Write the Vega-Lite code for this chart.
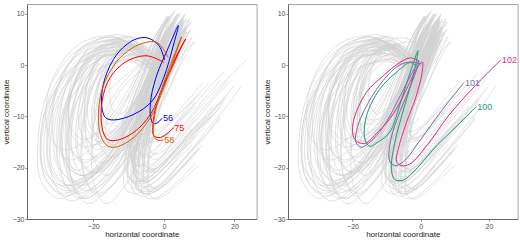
{
"$schema":"https://vega.github.io/schema/vega-lite/v6.json",
"padding":{"left":1,"top":3,"right":0,"bottom":0},
"autosize":{"type":"pad"},
"spacing":4,
"resolve":{"scale":{"x":"independent","y":"independent"}},
"config":{
 "font":"Liberation Sans",
 "view":{"stroke":"#a6a6a6","strokeWidth":1},
 "axis":{"grid":false,"domainColor":"#666666","domainWidth":1,"tickColor":"#666666","tickSize":2,"tickWidth":0.8,"labelColor":"#4d4d4d","labelFontSize":7,"labelPadding":1,"titleColor":"#1a1a1a","titleFontSize":8,"titleFontWeight":"normal"},
 "axisY":{"minExtent":15,"maxExtent":15,"titlePadding":2},
 "axisX":{"titlePadding":1.5}
},
"datasets":{
"ends":[
{"id":"56","x":-0.5,"y":-10.3},{"id":"75","x":2.7,"y":-12.2},{"id":"58","x":-0.2,"y":-14.6},
{"id":"100","x":16.3,"y":-8.1},{"id":"101","x":12.7,"y":-3.4},{"id":"102","x":23.5,"y":1.0}
],
"traj":[
{"id":"g0","x":-3,"y":2.5},{"id":"g0","x":-6.5,"y":4.1},{"id":"g0","x":-10.7,"y":3.3},{"id":"g0","x":-13.9,"y":0.1},{"id":"g0","x":-15.3,"y":-3.9},{"id":"g0","x":-14.9,"y":-7.9},{"id":"g0","x":-12.8,"y":-9.5},{"id":"g0","x":-9.3,"y":-7.9},{"id":"g0","x":-5.8,"y":-4.3},{"id":"g0","x":-3,"y":0.1},{"id":"g0","x":-0.6,"y":4.5},{"id":"g0","x":1.2,"y":6.5},{"id":"g0","x":0.2,"y":4.9},{"id":"g0","x":-2,"y":0.9},{"id":"g0","x":-4.1,"y":-3.1},{"id":"g0","x":-5.1,"y":-6.3},{"id":"g0","x":-5,"y":-8.7},{"id":"g0","x":-3.7,"y":-9.1},
{"id":"g1","x":-3,"y":2},{"id":"g1","x":-7.5,"y":3.8},{"id":"g1","x":-12.9,"y":2.9},{"id":"g1","x":-17,"y":-0.7},{"id":"g1","x":-18.8,"y":-5.2},{"id":"g1","x":-18.3,"y":-9.7},{"id":"g1","x":-15.6,"y":-11.5},{"id":"g1","x":-11.1,"y":-9.7},{"id":"g1","x":-6.6,"y":-5.7},{"id":"g1","x":-3,"y":-0.7},{"id":"g1","x":0.2,"y":4.3},{"id":"g1","x":2.4,"y":6.5},{"id":"g1","x":1.1,"y":4.7},{"id":"g1","x":-1.7,"y":0.2},{"id":"g1","x":-4.4,"y":-4.3},{"id":"g1","x":-5.7,"y":-7.9},{"id":"g1","x":-5.5,"y":-10.6},{"id":"g1","x":-3.9,"y":-11.1},{"id":"g1","x":-1.9,"y":-10.4},
{"id":"g2","x":-2,"y":1.5},{"id":"g2","x":-7,"y":3.5},{"id":"g2","x":-13,"y":2.5},{"id":"g2","x":-17.5,"y":-1.5},{"id":"g2","x":-19.5,"y":-6.5},{"id":"g2","x":-19,"y":-11.5},{"id":"g2","x":-16,"y":-13.5},{"id":"g2","x":-11,"y":-11.5},{"id":"g2","x":-6,"y":-7},{"id":"g2","x":-2,"y":-1.5},{"id":"g2","x":1.5,"y":4},{"id":"g2","x":4,"y":6.5},{"id":"g2","x":2.5,"y":4.5},{"id":"g2","x":-0.5,"y":-0.5},{"id":"g2","x":-3.5,"y":-5.5},{"id":"g2","x":-5,"y":-9.5},{"id":"g2","x":-4.8,"y":-12.5},{"id":"g2","x":-3,"y":-13},{"id":"g2","x":0,"y":-12},{"id":"g2","x":6,"y":-7.5},{"id":"g2","x":11,"y":-3.5},
{"id":"g3","x":-4,"y":2.5},{"id":"g3","x":-9,"y":4.7},{"id":"g3","x":-15,"y":3.6},{"id":"g3","x":-19.5,"y":-0.8},{"id":"g3","x":-21.5,"y":-6.3},{"id":"g3","x":-21,"y":-11.8},{"id":"g3","x":-18,"y":-14},{"id":"g3","x":-13,"y":-11.8},{"id":"g3","x":-8,"y":-6.9},{"id":"g3","x":-4,"y":-0.8},{"id":"g3","x":-0.5,"y":5.3},{"id":"g3","x":2,"y":8},{"id":"g3","x":0.5,"y":5.8},{"id":"g3","x":-2.5,"y":0.3},{"id":"g3","x":-5.5,"y":-5.2},{"id":"g3","x":-7,"y":-9.6},{"id":"g3","x":-6.8,"y":-12.9},{"id":"g3","x":-5,"y":-13.5},{"id":"g3","x":-3,"y":-12.6},
{"id":"g4","x":-1,"y":0},{"id":"g4","x":-6.5,"y":2},{"id":"g4","x":-13.1,"y":1},{"id":"g4","x":-18.1,"y":-3},{"id":"g4","x":-20.3,"y":-8},{"id":"g4","x":-19.7,"y":-13},{"id":"g4","x":-16.4,"y":-15},{"id":"g4","x":-10.9,"y":-13},{"id":"g4","x":-5.4,"y":-8.5},{"id":"g4","x":-1,"y":-3},{"id":"g4","x":2.9,"y":2.5},{"id":"g4","x":5.6,"y":5},{"id":"g4","x":4,"y":3},{"id":"g4","x":0.7,"y":-2},{"id":"g4","x":-2.7,"y":-7},{"id":"g4","x":-4.3,"y":-11},{"id":"g4","x":-4.1,"y":-14},{"id":"g4","x":-2.1,"y":-14.5},{"id":"g4","x":1,"y":-13},{"id":"g4","x":8,"y":-8},{"id":"g4","x":14,"y":-3.5},{"id":"g4","x":17,"y":-1.5},
{"id":"g5","x":-3,"y":3},{"id":"g5","x":-8.5,"y":5.4},{"id":"g5","x":-15.1,"y":4.2},{"id":"g5","x":-20.1,"y":-0.6},{"id":"g5","x":-22.3,"y":-6.6},{"id":"g5","x":-21.7,"y":-12.6},{"id":"g5","x":-18.4,"y":-15},{"id":"g5","x":-12.9,"y":-12.6},{"id":"g5","x":-7.4,"y":-7.2},{"id":"g5","x":-3,"y":-0.6},{"id":"g5","x":0.9,"y":6},{"id":"g5","x":3.6,"y":9},{"id":"g5","x":2,"y":6.6},{"id":"g5","x":-1.4,"y":0.6},{"id":"g5","x":-4.7,"y":-5.4},{"id":"g5","x":-6.3,"y":-10.2},{"id":"g5","x":-6.1,"y":-13.8},{"id":"g5","x":-4.1,"y":-14.4},{"id":"g5","x":-1,"y":-13},{"id":"g5","x":5,"y":-9},{"id":"g5","x":10,"y":-5.5},
{"id":"g6","x":-3,"y":1},{"id":"g6","x":-9,"y":3.2},{"id":"g6","x":-16.2,"y":2.1},{"id":"g6","x":-21.6,"y":-2.3},{"id":"g6","x":-24,"y":-7.8},{"id":"g6","x":-23.4,"y":-13.3},{"id":"g6","x":-19.8,"y":-15.5},{"id":"g6","x":-13.8,"y":-13.3},{"id":"g6","x":-7.8,"y":-8.4},{"id":"g6","x":-3,"y":-2.3},{"id":"g6","x":1.2,"y":3.8},{"id":"g6","x":4.2,"y":6.5},{"id":"g6","x":2.4,"y":4.3},{"id":"g6","x":-1.2,"y":-1.2},{"id":"g6","x":-4.8,"y":-6.7},{"id":"g6","x":-6.6,"y":-11.1},{"id":"g6","x":-6.4,"y":-14.4},{"id":"g6","x":-4.2,"y":-15},{"id":"g6","x":-2,"y":-14.2},
{"id":"g7","x":-1,"y":0.5},{"id":"g7","x":-7,"y":3.1},{"id":"g7","x":-14.2,"y":1.8},{"id":"g7","x":-19.6,"y":-3.4},{"id":"g7","x":-22,"y":-9.9},{"id":"g7","x":-21.4,"y":-16.4},{"id":"g7","x":-17.8,"y":-19},{"id":"g7","x":-11.8,"y":-16.4},{"id":"g7","x":-5.8,"y":-10.6},{"id":"g7","x":-1,"y":-3.4},{"id":"g7","x":3.2,"y":3.8},{"id":"g7","x":6.2,"y":7},{"id":"g7","x":4.4,"y":4.4},{"id":"g7","x":0.8,"y":-2.1},{"id":"g7","x":-2.8,"y":-8.6},{"id":"g7","x":-4.6,"y":-13.8},{"id":"g7","x":-4.4,"y":-17.7},{"id":"g7","x":-2.2,"y":-18.4},{"id":"g7","x":1,"y":-17},{"id":"g7","x":7,"y":-12.5},{"id":"g7","x":13,"y":-7.5},{"id":"g7","x":19,"y":-3},
{"id":"g8","x":-4,"y":2},{"id":"g8","x":-10.5,"y":4.4},{"id":"g8","x":-18.3,"y":3.2},{"id":"g8","x":-24.2,"y":-1.6},{"id":"g8","x":-26.8,"y":-7.6},{"id":"g8","x":-26.1,"y":-13.6},{"id":"g8","x":-22.2,"y":-16},{"id":"g8","x":-15.7,"y":-13.6},{"id":"g8","x":-9.2,"y":-8.2},{"id":"g8","x":-4,"y":-1.6},{"id":"g8","x":0.6,"y":5},{"id":"g8","x":3.8,"y":8},{"id":"g8","x":1.9,"y":5.6},{"id":"g8","x":-2.1,"y":-0.4},{"id":"g8","x":-6,"y":-6.4},{"id":"g8","x":-7.9,"y":-11.2},{"id":"g8","x":-7.6,"y":-14.8},{"id":"g8","x":-5.3,"y":-15.4},{"id":"g8","x":-3.3,"y":-14.6},
{"id":"g9","x":-2,"y":0},{"id":"g9","x":-8.5,"y":2.8},{"id":"g9","x":-16.3,"y":1.4},{"id":"g9","x":-22.2,"y":-4.2},{"id":"g9","x":-24.8,"y":-11.2},{"id":"g9","x":-24.1,"y":-18.2},{"id":"g9","x":-20.2,"y":-21},{"id":"g9","x":-13.7,"y":-18.2},{"id":"g9","x":-7.2,"y":-11.9},{"id":"g9","x":-2,"y":-4.2},{"id":"g9","x":2.6,"y":3.5},{"id":"g9","x":5.8,"y":7},{"id":"g9","x":3.9,"y":4.2},{"id":"g9","x":0,"y":-2.8},{"id":"g9","x":-4,"y":-9.8},{"id":"g9","x":-5.9,"y":-15.4},{"id":"g9","x":-5.6,"y":-19.6},{"id":"g9","x":-3.3,"y":-20.3},{"id":"g9","x":0,"y":-19},{"id":"g9","x":6,"y":-14.5},{"id":"g9","x":12,"y":-10},
{"id":"g10","x":-3,"y":1},{"id":"g10","x":-10,"y":3.6},{"id":"g10","x":-18.4,"y":2.3},{"id":"g10","x":-24.7,"y":-2.9},{"id":"g10","x":-27.5,"y":-9.4},{"id":"g10","x":-26.8,"y":-15.9},{"id":"g10","x":-22.6,"y":-18.5},{"id":"g10","x":-15.6,"y":-15.9},{"id":"g10","x":-8.6,"y":-10.1},{"id":"g10","x":-3,"y":-2.9},{"id":"g10","x":1.9,"y":4.3},{"id":"g10","x":5.4,"y":7.5},{"id":"g10","x":3.3,"y":4.9},{"id":"g10","x":-0.9,"y":-1.6},{"id":"g10","x":-5.1,"y":-8.1},{"id":"g10","x":-7.2,"y":-13.3},{"id":"g10","x":-6.9,"y":-17.2},{"id":"g10","x":-4.4,"y":-17.9},{"id":"g10","x":-1,"y":-16.5},{"id":"g10","x":5,"y":-12},{"id":"g10","x":11,"y":-7},{"id":"g10","x":16,"y":-3},
{"id":"g11","x":-5,"y":2},{"id":"g11","x":-12,"y":5},{"id":"g11","x":-20.4,"y":3.5},{"id":"g11","x":-26.7,"y":-2.5},{"id":"g11","x":-29.5,"y":-10},{"id":"g11","x":-28.8,"y":-17.5},{"id":"g11","x":-24.6,"y":-20.5},{"id":"g11","x":-17.6,"y":-17.5},{"id":"g11","x":-10.6,"y":-10.8},{"id":"g11","x":-5,"y":-2.5},{"id":"g11","x":-0.1,"y":5.8},{"id":"g11","x":3.4,"y":9.5},{"id":"g11","x":1.3,"y":6.5},{"id":"g11","x":-2.9,"y":-1},{"id":"g11","x":-7.1,"y":-8.5},{"id":"g11","x":-9.2,"y":-14.5},{"id":"g11","x":-8.9,"y":-19},{"id":"g11","x":-6.4,"y":-19.8},{"id":"g11","x":-4.4,"y":-19},
{"id":"g12","x":-2.5,"y":-0.5},{"id":"g12","x":-10,"y":2.3},{"id":"g12","x":-19,"y":0.9},{"id":"g12","x":-25.8,"y":-4.7},{"id":"g12","x":-28.8,"y":-11.7},{"id":"g12","x":-28,"y":-18.7},{"id":"g12","x":-23.5,"y":-21.5},{"id":"g12","x":-16,"y":-18.7},{"id":"g12","x":-8.5,"y":-12.4},{"id":"g12","x":-2.5,"y":-4.7},{"id":"g12","x":2.8,"y":3},{"id":"g12","x":6.5,"y":6.5},{"id":"g12","x":4.3,"y":3.7},{"id":"g12","x":-0.3,"y":-3.3},{"id":"g12","x":-4.8,"y":-10.3},{"id":"g12","x":-7,"y":-15.9},{"id":"g12","x":-6.7,"y":-20.1},{"id":"g12","x":-4,"y":-20.8},{"id":"g12","x":-1,"y":-19.5},{"id":"g12","x":5,"y":-15},{"id":"g12","x":10,"y":-11},
{"id":"g13","x":-4,"y":1},{"id":"g13","x":-11.5,"y":4.2},{"id":"g13","x":-20.5,"y":2.6},{"id":"g13","x":-27.3,"y":-3.8},{"id":"g13","x":-30.3,"y":-11.8},{"id":"g13","x":-29.5,"y":-19.8},{"id":"g13","x":-25,"y":-23},{"id":"g13","x":-17.5,"y":-19.8},{"id":"g13","x":-10,"y":-12.6},{"id":"g13","x":-4,"y":-3.8},{"id":"g13","x":1.3,"y":5},{"id":"g13","x":5,"y":9},{"id":"g13","x":2.8,"y":5.8},{"id":"g13","x":-1.8,"y":-2.2},{"id":"g13","x":-6.3,"y":-10.2},{"id":"g13","x":-8.5,"y":-16.6},{"id":"g13","x":-8.2,"y":-21.4},{"id":"g13","x":-5.5,"y":-22.2},{"id":"g13","x":-2.5,"y":-21},{"id":"g13","x":4,"y":-16},{"id":"g13","x":9,"y":-12},{"id":"g13","x":14,"y":-8},
{"id":"g14","x":-3,"y":0},{"id":"g14","x":-11,"y":3},{"id":"g14","x":-20.6,"y":1.5},{"id":"g14","x":-27.8,"y":-4.5},{"id":"g14","x":-31,"y":-12},{"id":"g14","x":-30.2,"y":-19.5},{"id":"g14","x":-25.4,"y":-22.5},{"id":"g14","x":-17.4,"y":-19.5},{"id":"g14","x":-9.4,"y":-12.8},{"id":"g14","x":-3,"y":-4.5},{"id":"g14","x":2.6,"y":3.8},{"id":"g14","x":6.6,"y":7.5},{"id":"g14","x":4.2,"y":4.5},{"id":"g14","x":-0.6,"y":-3},{"id":"g14","x":-5.4,"y":-10.5},{"id":"g14","x":-7.8,"y":-16.5},{"id":"g14","x":-7.5,"y":-21},{"id":"g14","x":-4.6,"y":-21.8},{"id":"g14","x":-2.6,"y":-21},
{"id":"g15","x":-5,"y":1.5},{"id":"g15","x":-13,"y":4.9},{"id":"g15","x":-22.6,"y":3.2},{"id":"g15","x":-29.8,"y":-3.6},{"id":"g15","x":-33,"y":-12.1},{"id":"g15","x":-32.2,"y":-20.6},{"id":"g15","x":-27.4,"y":-24},{"id":"g15","x":-19.4,"y":-20.6},{"id":"g15","x":-11.4,"y":-13},{"id":"g15","x":-5,"y":-3.6},{"id":"g15","x":0.6,"y":5.8},{"id":"g15","x":4.6,"y":10},{"id":"g15","x":2.2,"y":6.6},{"id":"g15","x":-2.6,"y":-1.9},{"id":"g15","x":-7.4,"y":-10.4},{"id":"g15","x":-9.8,"y":-17.2},{"id":"g15","x":-9.5,"y":-22.3},{"id":"g15","x":-6.6,"y":-23.2},{"id":"g15","x":-3,"y":-22},{"id":"g15","x":3,"y":-18},{"id":"g15","x":9,"y":-14},
{"id":"g16","x":-4,"y":-0.5},{"id":"g16","x":-12.5,"y":2.7},{"id":"g16","x":-22.7,"y":1.1},{"id":"g16","x":-30.4,"y":-5.3},{"id":"g16","x":-33.8,"y":-13.3},{"id":"g16","x":-32.9,"y":-21.3},{"id":"g16","x":-27.8,"y":-24.5},{"id":"g16","x":-19.3,"y":-21.3},{"id":"g16","x":-10.8,"y":-14.1},{"id":"g16","x":-4,"y":-5.3},{"id":"g16","x":2,"y":3.5},{"id":"g16","x":6.2,"y":7.5},{"id":"g16","x":3.7,"y":4.3},{"id":"g16","x":-1.5,"y":-3.7},{"id":"g16","x":-6.6,"y":-11.7},{"id":"g16","x":-9.1,"y":-18.1},{"id":"g16","x":-8.8,"y":-22.9},{"id":"g16","x":-5.7,"y":-23.7},{"id":"g16","x":-2,"y":-22.5},{"id":"g16","x":5,"y":-17},{"id":"g16","x":12,"y":-11.5},{"id":"g16","x":17,"y":-7},
{"id":"g17","x":-6,"y":1},{"id":"g17","x":-14.5,"y":4.6},{"id":"g17","x":-24.7,"y":2.8},{"id":"g17","x":-32.4,"y":-4.4},{"id":"g17","x":-35.5,"y":-13.4},{"id":"g17","x":-34.9,"y":-22.4},{"id":"g17","x":-29.8,"y":-26},{"id":"g17","x":-21.3,"y":-22.4},{"id":"g17","x":-12.8,"y":-14.3},{"id":"g17","x":-6,"y":-4.4},{"id":"g17","x":0,"y":5.5},{"id":"g17","x":4.2,"y":10},{"id":"g17","x":1.7,"y":6.4},{"id":"g17","x":-3.5,"y":-2.6},{"id":"g17","x":-8.6,"y":-11.6},{"id":"g17","x":-11.1,"y":-18.8},{"id":"g17","x":-10.8,"y":-24.2},{"id":"g17","x":-7.7,"y":-25.1},{"id":"g17","x":-5.7,"y":-24.3},
{"id":"g18","x":-3,"y":0},{"id":"g18","x":-12,"y":3.4},{"id":"g18","x":-22.8,"y":1.7},{"id":"g18","x":-30.9,"y":-5.1},{"id":"g18","x":-34.5,"y":-13.6},{"id":"g18","x":-33.6,"y":-22.1},{"id":"g18","x":-28.2,"y":-25.5},{"id":"g18","x":-19.2,"y":-22.1},{"id":"g18","x":-10.2,"y":-14.5},{"id":"g18","x":-3,"y":-5.1},{"id":"g18","x":3.3,"y":4.3},{"id":"g18","x":7.8,"y":8.5},{"id":"g18","x":5.1,"y":5.1},{"id":"g18","x":-0.3,"y":-3.4},{"id":"g18","x":-5.7,"y":-11.9},{"id":"g18","x":-8.4,"y":-18.7},{"id":"g18","x":-8,"y":-23.8},{"id":"g18","x":-4.8,"y":-24.7},{"id":"g18","x":-1,"y":-23.5},{"id":"g18","x":5,"y":-19},{"id":"g18","x":11,"y":-14.5},{"id":"g18","x":16,"y":-10},
{"id":"g19","x":-1,"y":1},{"id":"g19","x":-6.5,"y":4},{"id":"g19","x":-13.1,"y":2.5},{"id":"g19","x":-18.1,"y":-3.5},{"id":"g19","x":-20.3,"y":-11},{"id":"g19","x":-19.7,"y":-18.5},{"id":"g19","x":-16.4,"y":-21.5},{"id":"g19","x":-10.9,"y":-18.5},{"id":"g19","x":-5.4,"y":-11.8},{"id":"g19","x":-1,"y":-3.5},{"id":"g19","x":2.9,"y":4.8},{"id":"g19","x":5.6,"y":8.5},{"id":"g19","x":4,"y":5.5},{"id":"g19","x":0.7,"y":-2},{"id":"g19","x":-2.7,"y":-9.5},{"id":"g19","x":-4.3,"y":-15.5},{"id":"g19","x":-4.1,"y":-20},{"id":"g19","x":-2.1,"y":-20.8},{"id":"g19","x":1,"y":-19.5},{"id":"g19","x":7,"y":-15},{"id":"g19","x":13,"y":-10},
{"id":"g20","x":-0.5,"y":0.5},{"id":"g20","x":-7,"y":3.9},{"id":"g20","x":-14.8,"y":2.2},{"id":"g20","x":-20.7,"y":-4.6},{"id":"g20","x":-23.3,"y":-13.1},{"id":"g20","x":-22.6,"y":-21.6},{"id":"g20","x":-18.7,"y":-25},{"id":"g20","x":-12.2,"y":-21.6},{"id":"g20","x":-5.7,"y":-14},{"id":"g20","x":-0.5,"y":-4.6},{"id":"g20","x":4.1,"y":4.8},{"id":"g20","x":7.3,"y":9},{"id":"g20","x":5.4,"y":5.6},{"id":"g20","x":1.5,"y":-2.9},{"id":"g20","x":-2.5,"y":-11.4},{"id":"g20","x":-4.4,"y":-18.2},{"id":"g20","x":-4.1,"y":-23.3},{"id":"g20","x":-1.8,"y":-24.2},{"id":"g20","x":1,"y":-23},{"id":"g20","x":6,"y":-19.5},{"id":"g20","x":10,"y":-16.5},
{"id":"g21","x":-7,"y":3},{"id":"g21","x":-14.5,"y":5.6},{"id":"g21","x":-23.5,"y":4.3},{"id":"g21","x":-30.3,"y":-0.9},{"id":"g21","x":-33.3,"y":-7.4},{"id":"g21","x":-32.5,"y":-13.9},{"id":"g21","x":-28,"y":-16.5},{"id":"g21","x":-20.5,"y":-13.9},{"id":"g21","x":-13,"y":-8.1},{"id":"g21","x":-7,"y":-0.9},{"id":"g21","x":-1.8,"y":6.3},{"id":"g21","x":2,"y":9.5},{"id":"g21","x":-0.3,"y":6.9},{"id":"g21","x":-4.8,"y":0.4},{"id":"g21","x":-9.3,"y":-6.1},{"id":"g21","x":-11.5,"y":-11.3},{"id":"g21","x":-11.2,"y":-15.2},{"id":"g21","x":-8.5,"y":-15.9},{"id":"g21","x":-6.5,"y":-15.2},
{"id":"g22","x":-5,"y":2},{"id":"g22","x":-11,"y":5.2},{"id":"g22","x":-18.2,"y":3.6},{"id":"g22","x":-23.6,"y":-2.8},{"id":"g22","x":-26,"y":-10.8},{"id":"g22","x":-25.4,"y":-18.8},{"id":"g22","x":-21.8,"y":-22},{"id":"g22","x":-15.8,"y":-18.8},{"id":"g22","x":-9.8,"y":-11.6},{"id":"g22","x":-5,"y":-2.8},{"id":"g22","x":-0.8,"y":6},{"id":"g22","x":2.2,"y":10},{"id":"g22","x":0.4,"y":6.8},{"id":"g22","x":-3.2,"y":-1.2},{"id":"g22","x":-6.8,"y":-9.2},{"id":"g22","x":-8.6,"y":-15.6},{"id":"g22","x":-8.4,"y":-20.4},{"id":"g22","x":-6.2,"y":-21.2},{"id":"g22","x":-3,"y":-20},{"id":"g22","x":3,"y":-16},{"id":"g22","x":8,"y":-12.5},
{"id":"g23","x":-2,"y":0},{"id":"g23","x":-9,"y":3.6},{"id":"g23","x":-17.4,"y":1.8},{"id":"g23","x":-23.7,"y":-5.4},{"id":"g23","x":-26.5,"y":-14.4},{"id":"g23","x":-25.8,"y":-23.4},{"id":"g23","x":-21.6,"y":-27},{"id":"g23","x":-14.6,"y":-23.4},{"id":"g23","x":-7.6,"y":-15.3},{"id":"g23","x":-2,"y":-5.4},{"id":"g23","x":2.9,"y":4.5},{"id":"g23","x":6.4,"y":9},{"id":"g23","x":4.3,"y":5.4},{"id":"g23","x":0.1,"y":-3.6},{"id":"g23","x":-4.1,"y":-12.6},{"id":"g23","x":-6.2,"y":-19.8},{"id":"g23","x":-5.9,"y":-25.2},{"id":"g23","x":-3.4,"y":-26.1},{"id":"g23","x":0,"y":-25},{"id":"g23","x":5,"y":-22},{"id":"g23","x":9,"y":-19},
{"id":"g24","x":-1,"y":-2},{"id":"g24","x":-9,"y":0.6},{"id":"g24","x":-18.6,"y":-0.7},{"id":"g24","x":-25.8,"y":-5.9},{"id":"g24","x":-29,"y":-12.4},{"id":"g24","x":-28.2,"y":-18.9},{"id":"g24","x":-23.4,"y":-21.5},{"id":"g24","x":-15.4,"y":-18.9},{"id":"g24","x":-7.4,"y":-13.1},{"id":"g24","x":-1,"y":-5.9},{"id":"g24","x":4.6,"y":1.3},{"id":"g24","x":8.6,"y":4.5},{"id":"g24","x":6.2,"y":1.9},{"id":"g24","x":1.4,"y":-4.6},{"id":"g24","x":-3.4,"y":-11.1},{"id":"g24","x":-5.8,"y":-16.3},{"id":"g24","x":-5.5,"y":-20.2},{"id":"g24","x":-2.6,"y":-20.9},{"id":"g24","x":0,"y":-19.5},{"id":"g24","x":6,"y":-15},{"id":"g24","x":12,"y":-10.5},{"id":"g24","x":18,"y":-6},
{"id":"g25","x":-5,"y":3},{"id":"g25","x":-10,"y":5.6},{"id":"g25","x":-16,"y":4.3},{"id":"g25","x":-20.5,"y":-0.9},{"id":"g25","x":-22.5,"y":-7.4},{"id":"g25","x":-22,"y":-13.9},{"id":"g25","x":-19,"y":-16.5},{"id":"g25","x":-14,"y":-13.9},{"id":"g25","x":-9,"y":-8.1},{"id":"g25","x":-5,"y":-0.9},{"id":"g25","x":-1.5,"y":6.3},{"id":"g25","x":1,"y":9.5},{"id":"g25","x":-0.5,"y":6.9},{"id":"g25","x":-3.5,"y":0.4},{"id":"g25","x":-6.5,"y":-6.1},{"id":"g25","x":-8,"y":-11.3},{"id":"g25","x":-7.8,"y":-15.2},{"id":"g25","x":-6,"y":-15.9},{"id":"g25","x":-3,"y":-14.5},{"id":"g25","x":3,"y":-10.5},{"id":"g25","x":8,"y":-7},
{"id":"g26","x":-4,"y":2},{"id":"g26","x":-8,"y":4},{"id":"g26","x":-12.8,"y":3},{"id":"g26","x":-16.4,"y":-1},{"id":"g26","x":-18,"y":-6},{"id":"g26","x":-17.6,"y":-11},{"id":"g26","x":-15.2,"y":-13},{"id":"g26","x":-11.2,"y":-11},{"id":"g26","x":-7.2,"y":-6.5},{"id":"g26","x":-4,"y":-1},{"id":"g26","x":-1.2,"y":4.5},{"id":"g26","x":0.8,"y":7},{"id":"g26","x":-0.4,"y":5},{"id":"g26","x":-2.8,"y":0},{"id":"g26","x":-5.2,"y":-5},{"id":"g26","x":-6.4,"y":-9},{"id":"g26","x":-6.2,"y":-12},{"id":"g26","x":-4.8,"y":-12.5},
{"id":"g27","x":-3,"y":-1},{"id":"g27","x":-11.5,"y":2},{"id":"g27","x":-21.7,"y":0.5},{"id":"g27","x":-29.4,"y":-5.5},{"id":"g27","x":-32.8,"y":-13},{"id":"g27","x":-31.9,"y":-20.5},{"id":"g27","x":-26.8,"y":-23.5},{"id":"g27","x":-18.3,"y":-20.5},{"id":"g27","x":-9.8,"y":-13.8},{"id":"g27","x":-3,"y":-5.5},{"id":"g27","x":3,"y":2.8},{"id":"g27","x":7.2,"y":6.5},{"id":"g27","x":4.7,"y":3.5},{"id":"g27","x":-0.5,"y":-4},{"id":"g27","x":-5.6,"y":-11.5},{"id":"g27","x":-8.1,"y":-17.5},{"id":"g27","x":-7.8,"y":-22},{"id":"g27","x":-4.7,"y":-22.8},{"id":"g27","x":-2,"y":-21.5},{"id":"g27","x":4,"y":-17},{"id":"g27","x":10,"y":-12},{"id":"g27","x":15,"y":-8},{"id":"g27","x":20,"y":-4},
{"id":"g28","x":-6,"y":2},{"id":"g28","x":-12,"y":4.8},{"id":"g28","x":-19.2,"y":3.4},{"id":"g28","x":-24.6,"y":-2.2},{"id":"g28","x":-27,"y":-9.2},{"id":"g28","x":-26.4,"y":-16.2},{"id":"g28","x":-22.8,"y":-19},{"id":"g28","x":-16.8,"y":-16.2},{"id":"g28","x":-10.8,"y":-9.9},{"id":"g28","x":-6,"y":-2.2},{"id":"g28","x":-1.8,"y":5.5},{"id":"g28","x":1.2,"y":9},{"id":"g28","x":-0.6,"y":6.2},{"id":"g28","x":-4.2,"y":-0.8},{"id":"g28","x":-7.8,"y":-7.8},{"id":"g28","x":-9.6,"y":-13.4},{"id":"g28","x":-9.4,"y":-17.6},{"id":"g28","x":-7.2,"y":-18.3},{"id":"g28","x":-5.2,"y":-17.5},
{"id":"g29","x":-4,"y":0.5},{"id":"g29","x":-11,"y":3.7},{"id":"g29","x":-19.4,"y":2.1},{"id":"g29","x":-25.7,"y":-4.3},{"id":"g29","x":-28.5,"y":-12.3},{"id":"g29","x":-27.8,"y":-20.3},{"id":"g29","x":-23.6,"y":-23.5},{"id":"g29","x":-16.6,"y":-20.3},{"id":"g29","x":-9.6,"y":-13.1},{"id":"g29","x":-4,"y":-4.3},{"id":"g29","x":0.9,"y":4.5},{"id":"g29","x":4.4,"y":8.5},{"id":"g29","x":2.3,"y":5.3},{"id":"g29","x":-1.9,"y":-2.7},{"id":"g29","x":-6.1,"y":-10.7},{"id":"g29","x":-8.2,"y":-17.1},{"id":"g29","x":-7.9,"y":-21.9},{"id":"g29","x":-5.4,"y":-22.7},{"id":"g29","x":-2,"y":-21.5},{"id":"g29","x":4,"y":-17},{"id":"g29","x":10,"y":-12.5},{"id":"g29","x":15,"y":-9},
{"id":"g30","x":-3,"y":1},{"id":"g30","x":-10.5,"y":4.6},{"id":"g30","x":-19.5,"y":2.8},{"id":"g30","x":-26.3,"y":-4.4},{"id":"g30","x":-29.3,"y":-13.4},{"id":"g30","x":-28.5,"y":-22.4},{"id":"g30","x":-24,"y":-26},{"id":"g30","x":-16.5,"y":-22.4},{"id":"g30","x":-9,"y":-14.3},{"id":"g30","x":-3,"y":-4.4},{"id":"g30","x":2.3,"y":5.5},{"id":"g30","x":6,"y":10},{"id":"g30","x":3.8,"y":6.4},{"id":"g30","x":-0.8,"y":-2.6},{"id":"g30","x":-5.3,"y":-11.6},{"id":"g30","x":-7.5,"y":-18.8},{"id":"g30","x":-7.2,"y":-24.2},{"id":"g30","x":-4.5,"y":-25.1},{"id":"g30","x":-1,"y":-24},{"id":"g30","x":5,"y":-20},{"id":"g30","x":11,"y":-15.5},
{"id":"g31","x":-5,"y":1},{"id":"g31","x":-11.5,"y":4},{"id":"g31","x":-19.3,"y":2.5},{"id":"g31","x":-25.2,"y":-3.5},{"id":"g31","x":-27.8,"y":-11},{"id":"g31","x":-27.1,"y":-18.5},{"id":"g31","x":-23.2,"y":-21.5},{"id":"g31","x":-16.7,"y":-18.5},{"id":"g31","x":-10.2,"y":-11.8},{"id":"g31","x":-5,"y":-3.5},{"id":"g31","x":-0.5,"y":4.8},{"id":"g31","x":2.8,"y":8.5},{"id":"g31","x":0.9,"y":5.5},{"id":"g31","x":-3.1,"y":-2},{"id":"g31","x":-7,"y":-9.5},{"id":"g31","x":-8.9,"y":-15.5},{"id":"g31","x":-8.6,"y":-20},{"id":"g31","x":-6.3,"y":-20.8},{"id":"g31","x":-3,"y":-19.5},{"id":"g31","x":3,"y":-15},{"id":"g31","x":9,"y":-10.5},
{"id":"g32","x":-4,"y":0.5},{"id":"g32","x":-12,"y":4.1},{"id":"g32","x":-21.6,"y":2.3},{"id":"g32","x":-28.8,"y":-4.9},{"id":"g32","x":-32,"y":-13.9},{"id":"g32","x":-31.2,"y":-22.9},{"id":"g32","x":-26.4,"y":-26.5},{"id":"g32","x":-18.4,"y":-22.9},{"id":"g32","x":-10.4,"y":-14.8},{"id":"g32","x":-4,"y":-4.9},{"id":"g32","x":1.6,"y":5},{"id":"g32","x":5.6,"y":9.5},{"id":"g32","x":3.2,"y":5.9},{"id":"g32","x":-1.6,"y":-3.1},{"id":"g32","x":-6.4,"y":-12.1},{"id":"g32","x":-8.8,"y":-19.3},{"id":"g32","x":-8.5,"y":-24.7},{"id":"g32","x":-5.6,"y":-25.6},{"id":"g32","x":-3.5,"y":-24.8},
{"id":"g33","x":-4,"y":1.5},{"id":"g33","x":-9.5,"y":4.1},{"id":"g33","x":-16.1,"y":2.8},{"id":"g33","x":-21.1,"y":-2.4},{"id":"g33","x":-23.3,"y":-8.9},{"id":"g33","x":-22.7,"y":-15.4},{"id":"g33","x":-19.4,"y":-18},{"id":"g33","x":-13.9,"y":-15.4},{"id":"g33","x":-8.4,"y":-9.6},{"id":"g33","x":-4,"y":-2.4},{"id":"g33","x":-0.2,"y":4.8},{"id":"g33","x":2.6,"y":8},{"id":"g33","x":1,"y":5.4},{"id":"g33","x":-2.4,"y":-1.1},{"id":"g33","x":-5.7,"y":-7.6},{"id":"g33","x":-7.3,"y":-12.8},{"id":"g33","x":-7.1,"y":-16.7},{"id":"g33","x":-5.1,"y":-17.4},{"id":"g33","x":-2,"y":-16},{"id":"g33","x":4,"y":-11.5},{"id":"g33","x":9,"y":-8},
{"id":"g34","x":-5,"y":-1},{"id":"g34","x":-13.5,"y":2},{"id":"g34","x":-23.7,"y":0.5},{"id":"g34","x":-31.4,"y":-5.5},{"id":"g34","x":-34.8,"y":-13},{"id":"g34","x":-33.9,"y":-20.5},{"id":"g34","x":-28.8,"y":-23.5},{"id":"g34","x":-20.3,"y":-20.5},{"id":"g34","x":-11.8,"y":-13.8},{"id":"g34","x":-5,"y":-5.5},{"id":"g34","x":1,"y":2.8},{"id":"g34","x":5.2,"y":6.5},{"id":"g34","x":2.7,"y":3.5},{"id":"g34","x":-2.5,"y":-4},{"id":"g34","x":-7.6,"y":-11.5},{"id":"g34","x":-10.1,"y":-17.5},{"id":"g34","x":-9.8,"y":-22},{"id":"g34","x":-6.7,"y":-22.8},{"id":"g34","x":-4.7,"y":-22},
{"id":"g35","x":-2,"y":0},{"id":"g35","x":-8,"y":3.4},{"id":"g35","x":-15.2,"y":1.7},{"id":"g35","x":-20.6,"y":-5.1},{"id":"g35","x":-23,"y":-13.6},{"id":"g35","x":-22.4,"y":-22.1},{"id":"g35","x":-18.8,"y":-25.5},{"id":"g35","x":-12.8,"y":-22.1},{"id":"g35","x":-6.8,"y":-14.5},{"id":"g35","x":-2,"y":-5.1},{"id":"g35","x":2.2,"y":4.3},{"id":"g35","x":5.2,"y":8.5},{"id":"g35","x":3.4,"y":5.1},{"id":"g35","x":-0.2,"y":-3.4},{"id":"g35","x":-3.8,"y":-11.9},{"id":"g35","x":-5.6,"y":-18.7},{"id":"g35","x":-5.4,"y":-23.8},{"id":"g35","x":-3.2,"y":-24.7},{"id":"g35","x":0,"y":-23.5},{"id":"g35","x":5,"y":-20},{"id":"g35","x":10,"y":-16},
{"id":"g36","x":-7,"y":2.5},{"id":"g36","x":-14,"y":5.3},{"id":"g36","x":-22.4,"y":3.9},{"id":"g36","x":-28.7,"y":-1.7},{"id":"g36","x":-31.5,"y":-8.7},{"id":"g36","x":-30.8,"y":-15.7},{"id":"g36","x":-26.6,"y":-18.5},{"id":"g36","x":-19.6,"y":-15.7},{"id":"g36","x":-12.6,"y":-9.4},{"id":"g36","x":-7,"y":-1.7},{"id":"g36","x":-2.1,"y":6},{"id":"g36","x":1.4,"y":9.5},{"id":"g36","x":-0.7,"y":6.7},{"id":"g36","x":-4.9,"y":-0.3},{"id":"g36","x":-9.1,"y":-7.3},{"id":"g36","x":-11.2,"y":-12.9},{"id":"g36","x":-10.9,"y":-17.1},{"id":"g36","x":-8.4,"y":-17.8},{"id":"g36","x":-6.4,"y":-17},
{"id":"g37","x":-1,"y":0},{"id":"g37","x":-6,"y":2.4},{"id":"g37","x":-12,"y":1.2},{"id":"g37","x":-16.5,"y":-3.6},{"id":"g37","x":-18.5,"y":-9.6},{"id":"g37","x":-18,"y":-15.6},{"id":"g37","x":-15,"y":-18},{"id":"g37","x":-10,"y":-15.6},{"id":"g37","x":-5,"y":-10.2},{"id":"g37","x":-1,"y":-3.6},{"id":"g37","x":2.5,"y":3},{"id":"g37","x":5,"y":6},{"id":"g37","x":3.5,"y":3.6},{"id":"g37","x":0.5,"y":-2.4},{"id":"g37","x":-2.5,"y":-8.4},{"id":"g37","x":-4,"y":-13.2},{"id":"g37","x":-3.8,"y":-16.8},{"id":"g37","x":-2,"y":-17.4},{"id":"g37","x":1,"y":-16},{"id":"g37","x":7,"y":-11.5},{"id":"g37","x":13,"y":-7},{"id":"g37","x":18,"y":-3},
{"id":"g38","x":-6,"y":2},{"id":"g38","x":-13.5,"y":5.4},{"id":"g38","x":-22.5,"y":3.7},{"id":"g38","x":-29.3,"y":-3.1},{"id":"g38","x":-32.3,"y":-11.6},{"id":"g38","x":-31.5,"y":-20.1},{"id":"g38","x":-27,"y":-23.5},{"id":"g38","x":-19.5,"y":-20.1},{"id":"g38","x":-12,"y":-12.5},{"id":"g38","x":-6,"y":-3.1},{"id":"g38","x":-0.8,"y":6.3},{"id":"g38","x":3,"y":10.5},{"id":"g38","x":0.8,"y":7.1},{"id":"g38","x":-3.8,"y":-1.4},{"id":"g38","x":-8.3,"y":-9.9},{"id":"g38","x":-10.5,"y":-16.7},{"id":"g38","x":-10.2,"y":-21.8},{"id":"g38","x":-7.5,"y":-22.7},{"id":"g38","x":-4.5,"y":-21.5},{"id":"g38","x":1,"y":-18},{"id":"g38","x":6,"y":-14.5},
{"id":"g39","x":-4,"y":1},{"id":"g39","x":-10.5,"y":4.6},{"id":"g39","x":-18.3,"y":2.8},{"id":"g39","x":-24.2,"y":-4.4},{"id":"g39","x":-26.8,"y":-13.4},{"id":"g39","x":-26.1,"y":-22.4},{"id":"g39","x":-22.2,"y":-26},{"id":"g39","x":-15.7,"y":-22.4},{"id":"g39","x":-9.2,"y":-14.3},{"id":"g39","x":-4,"y":-4.4},{"id":"g39","x":0.6,"y":5.5},{"id":"g39","x":3.8,"y":10},{"id":"g39","x":1.9,"y":6.4},{"id":"g39","x":-2.1,"y":-2.6},{"id":"g39","x":-6,"y":-11.6},{"id":"g39","x":-7.9,"y":-18.8},{"id":"g39","x":-7.6,"y":-24.2},{"id":"g39","x":-5.3,"y":-25.1},{"id":"g39","x":-3,"y":-24.3},
{"id":"g40","x":-2,"y":1},{"id":"g40","x":-6.5,"y":3.2},{"id":"g40","x":-11.9,"y":2.1},{"id":"g40","x":-16,"y":-2.3},{"id":"g40","x":-17.8,"y":-7.8},{"id":"g40","x":-17.3,"y":-13.3},{"id":"g40","x":-14.6,"y":-15.5},{"id":"g40","x":-10.1,"y":-13.3},{"id":"g40","x":-5.6,"y":-8.4},{"id":"g40","x":-2,"y":-2.3},{"id":"g40","x":1.2,"y":3.8},{"id":"g40","x":3.4,"y":6.5},{"id":"g40","x":2.1,"y":4.3},{"id":"g40","x":-0.7,"y":-1.2},{"id":"g40","x":-3.4,"y":-6.7},{"id":"g40","x":-4.7,"y":-11.1},{"id":"g40","x":-4.5,"y":-14.4},{"id":"g40","x":-2.9,"y":-15},{"id":"g40","x":0,"y":-14},{"id":"g40","x":5,"y":-10.5},{"id":"g40","x":9,"y":-7.5},
{"id":"g41","x":-2,"y":-1},{"id":"g41","x":-10,"y":2.2},{"id":"g41","x":-19.6,"y":0.6},{"id":"g41","x":-26.8,"y":-5.8},{"id":"g41","x":-30,"y":-13.8},{"id":"g41","x":-29.2,"y":-21.8},{"id":"g41","x":-24.4,"y":-25},{"id":"g41","x":-16.4,"y":-21.8},{"id":"g41","x":-8.4,"y":-14.6},{"id":"g41","x":-2,"y":-5.8},{"id":"g41","x":3.6,"y":3},{"id":"g41","x":7.6,"y":7},{"id":"g41","x":5.2,"y":3.8},{"id":"g41","x":0.4,"y":-4.2},{"id":"g41","x":-4.4,"y":-12.2},{"id":"g41","x":-6.8,"y":-18.6},{"id":"g41","x":-6.5,"y":-23.4},{"id":"g41","x":-3.6,"y":-24.2},{"id":"g41","x":-0.5,"y":-23},{"id":"g41","x":6,"y":-18},{"id":"g41","x":13,"y":-12},{"id":"g41","x":19,"y":-7},{"id":"g41","x":22,"y":-4},
{"id":"g42","x":-3,"y":-0.5},{"id":"g42","x":-10,"y":2.9},{"id":"g42","x":-18.4,"y":1.2},{"id":"g42","x":-24.7,"y":-5.6},{"id":"g42","x":-27.5,"y":-14.1},{"id":"g42","x":-26.8,"y":-22.6},{"id":"g42","x":-22.6,"y":-26},{"id":"g42","x":-15.6,"y":-22.6},{"id":"g42","x":-8.6,"y":-15},{"id":"g42","x":-3,"y":-5.6},{"id":"g42","x":1.9,"y":3.8},{"id":"g42","x":5.4,"y":8},{"id":"g42","x":3.3,"y":4.6},{"id":"g42","x":-0.9,"y":-3.9},{"id":"g42","x":-5.1,"y":-12.4},{"id":"g42","x":-7.2,"y":-19.2},{"id":"g42","x":-6.9,"y":-24.3},{"id":"g42","x":-4.4,"y":-25.2},{"id":"g42","x":-1.5,"y":-24},{"id":"g42","x":4,"y":-20.5},{"id":"g42","x":9,"y":-17},
{"id":"g43","x":-6,"y":3.5},{"id":"g43","x":-12,"y":5.9},{"id":"g43","x":-19.2,"y":4.7},{"id":"g43","x":-24.6,"y":-0.1},{"id":"g43","x":-27,"y":-6.1},{"id":"g43","x":-26.4,"y":-12.1},{"id":"g43","x":-22.8,"y":-14.5},{"id":"g43","x":-16.8,"y":-12.1},{"id":"g43","x":-10.8,"y":-6.7},{"id":"g43","x":-6,"y":-0.1},{"id":"g43","x":-1.8,"y":6.5},{"id":"g43","x":1.2,"y":9.5},{"id":"g43","x":-0.6,"y":7.1},{"id":"g43","x":-4.2,"y":1.1},{"id":"g43","x":-7.8,"y":-4.9},{"id":"g43","x":-9.6,"y":-9.7},{"id":"g43","x":-9.4,"y":-13.3},{"id":"g43","x":-7.2,"y":-13.9},{"id":"g43","x":-5.2,"y":-13.2},
{"id":"g44","x":-1,"y":-2},{"id":"g44","x":-8.5,"y":1},{"id":"g44","x":-17.5,"y":-0.5},{"id":"g44","x":-24.3,"y":-6.5},{"id":"g44","x":-27.3,"y":-14},{"id":"g44","x":-26.5,"y":-21.5},{"id":"g44","x":-22,"y":-24.5},{"id":"g44","x":-14.5,"y":-21.5},{"id":"g44","x":-7,"y":-14.8},{"id":"g44","x":-1,"y":-6.5},{"id":"g44","x":4.3,"y":1.8},{"id":"g44","x":8,"y":5.5},{"id":"g44","x":5.8,"y":2.5},{"id":"g44","x":1.3,"y":-5},{"id":"g44","x":-3.3,"y":-12.5},{"id":"g44","x":-5.5,"y":-18.5},{"id":"g44","x":-5.2,"y":-23},{"id":"g44","x":-2.5,"y":-23.8},{"id":"g44","x":0,"y":-22.5},{"id":"g44","x":6,"y":-18},{"id":"g44","x":12,"y":-13.5},{"id":"g44","x":16,"y":-10.5},
{"id":"g45","x":-5,"y":0.5},{"id":"g45","x":-13.5,"y":3.9},{"id":"g45","x":-23.7,"y":2.2},{"id":"g45","x":-31.4,"y":-4.6},{"id":"g45","x":-34.8,"y":-13.1},{"id":"g45","x":-33.9,"y":-21.6},{"id":"g45","x":-28.8,"y":-25},{"id":"g45","x":-20.3,"y":-21.6},{"id":"g45","x":-11.8,"y":-14},{"id":"g45","x":-5,"y":-4.6},{"id":"g45","x":1,"y":4.8},{"id":"g45","x":5.2,"y":9},{"id":"g45","x":2.7,"y":5.6},{"id":"g45","x":-2.5,"y":-2.9},{"id":"g45","x":-7.6,"y":-11.4},{"id":"g45","x":-10.1,"y":-18.2},{"id":"g45","x":-9.8,"y":-23.3},{"id":"g45","x":-6.7,"y":-24.2},{"id":"g45","x":-3,"y":-23},{"id":"g45","x":3,"y":-19},{"id":"g45","x":8,"y":-15.5},
{"id":"g46","x":-1,"y":0},{"id":"g46","x":-6.5,"y":3.6},{"id":"g46","x":-13.1,"y":1.8},{"id":"g46","x":-18.1,"y":-5.4},{"id":"g46","x":-20.3,"y":-14.4},{"id":"g46","x":-19.7,"y":-23.4},{"id":"g46","x":-16.4,"y":-27},{"id":"g46","x":-10.9,"y":-23.4},{"id":"g46","x":-5.4,"y":-15.3},{"id":"g46","x":-1,"y":-5.4},{"id":"g46","x":2.9,"y":4.5},{"id":"g46","x":5.6,"y":9},{"id":"g46","x":4,"y":5.4},{"id":"g46","x":0.7,"y":-3.6},{"id":"g46","x":-2.7,"y":-12.6},{"id":"g46","x":-4.3,"y":-19.8},{"id":"g46","x":-4.1,"y":-25.2},{"id":"g46","x":-2.1,"y":-26.1},{"id":"g46","x":1,"y":-25},{"id":"g46","x":6,"y":-22},{"id":"g46","x":10,"y":-19.5},
{"id":"g47","x":-1.5,"y":-1.5},{"id":"g47","x":-8,"y":1.1},{"id":"g47","x":-15.8,"y":-0.2},{"id":"g47","x":-21.7,"y":-5.4},{"id":"g47","x":-24.3,"y":-11.9},{"id":"g47","x":-23.6,"y":-18.4},{"id":"g47","x":-19.7,"y":-21},{"id":"g47","x":-13.2,"y":-18.4},{"id":"g47","x":-6.7,"y":-12.6},{"id":"g47","x":-1.5,"y":-5.4},{"id":"g47","x":3.1,"y":1.8},{"id":"g47","x":6.3,"y":5},{"id":"g47","x":4.4,"y":2.4},{"id":"g47","x":0.5,"y":-4.1},{"id":"g47","x":-3.5,"y":-10.6},{"id":"g47","x":-5.4,"y":-15.8},{"id":"g47","x":-5.1,"y":-19.7},{"id":"g47","x":-2.8,"y":-20.4},{"id":"g47","x":0,"y":-19},{"id":"g47","x":6,"y":-14.5},{"id":"g47","x":12,"y":-10},{"id":"g47","x":17,"y":-6.5},
{"id":"56","x":0.2,"y":1.0},{"id":"56","x":-1.4,"y":3.8},{"id":"56","x":-4.7,"y":5.3},{"id":"56","x":-8.5,"y":4.9},{"id":"56","x":-13.3,"y":2.1},{"id":"56","x":-16.6,"y":-2.4},{"id":"56","x":-17.7,"y":-7.0},{"id":"56","x":-16.6,"y":-10.2},{"id":"56","x":-14.2,"y":-10.7},{"id":"56","x":-8.5,"y":-9.6},{"id":"56","x":-3.3,"y":-7.0},{"id":"56","x":0,"y":-2.4},{"id":"56","x":2.8,"y":4.1},{"id":"56","x":4.1,"y":7.7},{"id":"56","x":0.9,"y":2.8},{"id":"56","x":-1.9,"y":-1.75},{"id":"56","x":-3.6,"y":-6.3},{"id":"56","x":-3.8,"y":-9.9},{"id":"56","x":-3.0,"y":-11.4},{"id":"56","x":-1.7,"y":-11.2},{"id":"56","x":-0.5,"y":-10.3},
{"id":"75","x":0,"y":0.5},{"id":"75","x":-4.7,"y":1.8},{"id":"75","x":-10.4,"y":0.8},{"id":"75","x":-15.2,"y":-2.4},{"id":"75","x":-17.5,"y":-7.0},{"id":"75","x":-17.5,"y":-12.2},{"id":"75","x":-16.1,"y":-14.4},{"id":"75","x":-13.7,"y":-14.7},{"id":"75","x":-8.5,"y":-13.1},{"id":"75","x":-3.8,"y":-9.6},{"id":"75","x":0,"y":-3.7},{"id":"75","x":3.8,"y":2.1},{"id":"75","x":6.2,"y":5.1},{"id":"75","x":5.2,"y":3.8},{"id":"75","x":1.9,"y":-1.1},{"id":"75","x":-1.4,"y":-6.3},{"id":"75","x":-3.0,"y":-10.9},{"id":"75","x":-2.8,"y":-13.8},{"id":"75","x":-0.9,"y":-14.1},{"id":"75","x":1.4,"y":-13.1},{"id":"75","x":2.7,"y":-12.2},
{"id":"58","x":1.2,"y":1.5},{"id":"58","x":-1.9,"y":4.4},{"id":"58","x":-6.6,"y":4.1},{"id":"58","x":-12.3,"y":1.5},{"id":"58","x":-17.0,"y":-3.7},{"id":"58","x":-18.5,"y":-8.9},{"id":"58","x":-18.0,"y":-13.5},{"id":"58","x":-16.1,"y":-15.7},{"id":"58","x":-13.7,"y":-16.0},{"id":"58","x":-8.5,"y":-14.1},{"id":"58","x":-3.8,"y":-10.2},{"id":"58","x":0,"y":-4.4},{"id":"58","x":3.3,"y":2.1},{"id":"58","x":5.0,"y":5.5},{"id":"58","x":3.8,"y":3.4},{"id":"58","x":0.9,"y":-1.75},{"id":"58","x":-1.9,"y":-7.6},{"id":"58","x":-3.0,"y":-12.2},{"id":"58","x":-2.7,"y":-14.1},{"id":"58","x":-1.4,"y":-14.7},{"id":"58","x":-0.2,"y":-14.6},
{"id":"100","x":-1,"y":-0.5},{"id":"100","x":-3,"y":0.5},{"id":"100","x":-7.1,"y":-1.4},{"id":"100","x":-12,"y":-4.7},{"id":"100","x":-15.9,"y":-9.9},{"id":"100","x":-16.4,"y":-14.3},{"id":"100","x":-15,"y":-15.8},{"id":"100","x":-12.5,"y":-15},{"id":"100","x":-9.1,"y":-13.1},{"id":"100","x":-6.2,"y":-7.9},{"id":"100","x":-3.7,"y":-2.7},{"id":"100","x":-0.8,"y":2.8},{"id":"100","x":-2.2,"y":-2.1},{"id":"100","x":-4.7,"y":-7.9},{"id":"100","x":-7.6,"y":-15.1},{"id":"100","x":-8.6,"y":-20.3},{"id":"100","x":-7.6,"y":-22.3},{"id":"100","x":-5,"y":-22.4},{"id":"100","x":-1,"y":-20},{"id":"100","x":5,"y":-15.5},{"id":"100","x":11,"y":-11.6},{"id":"100","x":16.3,"y":-8.1},
{"id":"101","x":0.2,"y":0.2},{"id":"101","x":-2.7,"y":0.6},{"id":"101","x":-6.2,"y":0},{"id":"101","x":-11,"y":-3},{"id":"101","x":-15.5,"y":-7.5},{"id":"101","x":-18.5,"y":-12},{"id":"101","x":-19,"y":-15},{"id":"101","x":-17.5,"y":-16},{"id":"101","x":-14,"y":-14.5},{"id":"101","x":-10,"y":-11},{"id":"101","x":-6,"y":-6},{"id":"101","x":-2.5,"y":-1.5},{"id":"101","x":-0.5,"y":0.8},{"id":"101","x":-1.5,"y":-1.5},{"id":"101","x":-4.2,"y":-6},{"id":"101","x":-7.6,"y":-11.8},{"id":"101","x":-9.1,"y":-15.7},{"id":"101","x":-9.1,"y":-18.7},{"id":"101","x":-7.6,"y":-19.6},{"id":"101","x":-5,"y":-18.8},{"id":"101","x":0,"y":-14.5},{"id":"101","x":6,"y":-9},{"id":"101","x":12.7,"y":-3.4},
{"id":"102","x":-0.5,"y":0.8},{"id":"102","x":-3,"y":1.4},{"id":"102","x":-6.1,"y":0.5},{"id":"102","x":-11,"y":-2.1},{"id":"102","x":-15.9,"y":-5.3},{"id":"102","x":-19.8,"y":-11.2},{"id":"102","x":-19.4,"y":-14.4},{"id":"102","x":-16.5,"y":-15.3},{"id":"102","x":-12.5,"y":-13},{"id":"102","x":-8,"y":-9.5},{"id":"102","x":-4,"y":-4.5},{"id":"102","x":-1,"y":-0.5},{"id":"102","x":0.5,"y":0.6},{"id":"102","x":0.4,"y":-1.5},{"id":"102","x":-1.3,"y":-6},{"id":"102","x":-4.2,"y":-11.2},{"id":"102","x":-6.6,"y":-16.4},{"id":"102","x":-7.1,"y":-18.7},{"id":"102","x":-5.7,"y":-19.6},{"id":"102","x":-3.2,"y":-19.3},{"id":"102","x":2,"y":-15.5},{"id":"102","x":8,"y":-10},{"id":"102","x":16,"y":-4},{"id":"102","x":23.5,"y":1.0}
]},
"hconcat":[
{"width":229.6,"height":215,
 "layer":[
  {"data":{"name":"traj"},
   "mark":{"type":"line","interpolate":"catmull-rom","strokeWidth":0.6,"color":"#d0d0d0","clip":true},
   "encoding":{
    "x":{"field":"x","type":"quantitative","scale":{"domain":[-38.8,26.3],"nice":false,"zero":false},"axis":{"values":[-20,0,20],"title":"horizontal coordinate"}},
    "y":{"field":"y","type":"quantitative","scale":{"domain":[-30,11.9],"nice":false,"zero":false},"axis":{"values":[-30,-20,-10,0,10],"title":"vertical coordinate"}},
    "detail":{"field":"id"},
    "order":{"value":null}}},
  {"data":{"name":"traj"},
   "transform":[{"filter":{"field":"id","oneOf":["56","58","75"]}}],
   "mark":{"type":"line","interpolate":"catmull-rom","strokeWidth":1,"clip":true},
   "encoding":{
    "x":{"field":"x","type":"quantitative"},
    "y":{"field":"y","type":"quantitative"},
    "color":{"field":"id","type":"nominal","scale":{"domain":["56","58","75","100","101","102"],"range":["#0000ff","#d95f02","#ff0000","#1b9e77","#7570b3","#e7298a"]},"legend":null},
    "order":{"value":null}}},
  {"data":{"name":"ends"},
   "transform":[{"filter":{"field":"id","oneOf":["56","58","75"]}}],
   "mark":{"type":"text","align":"left","baseline":"middle","dx":1,"fontSize":9},
   "encoding":{
    "x":{"field":"x","type":"quantitative"},
    "y":{"field":"y","type":"quantitative"},
    "text":{"field":"id"},
    "color":{"field":"id","type":"nominal","legend":null}}}
 ]},
{"width":229.6,"height":215,
 "layer":[
  {"data":{"name":"traj"},
   "mark":{"type":"line","interpolate":"catmull-rom","strokeWidth":0.6,"color":"#d0d0d0","clip":true},
   "encoding":{
    "x":{"field":"x","type":"quantitative","scale":{"domain":[-38.9,28.4],"nice":false,"zero":false},"axis":{"values":[-20,0,20],"title":"horizontal coordinate"}},
    "y":{"field":"y","type":"quantitative","scale":{"domain":[-30,11.9],"nice":false,"zero":false},"axis":{"values":[-30,-20,-10,0,10],"title":"vertical coordinate"}},
    "detail":{"field":"id"},
    "order":{"value":null}}},
  {"data":{"name":"traj"},
   "transform":[{"filter":{"field":"id","oneOf":["100","101","102"]}}],
   "mark":{"type":"line","interpolate":"catmull-rom","strokeWidth":1,"clip":true},
   "encoding":{
    "x":{"field":"x","type":"quantitative"},
    "y":{"field":"y","type":"quantitative"},
    "color":{"field":"id","type":"nominal","scale":{"domain":["56","58","75","100","101","102"],"range":["#0000ff","#d95f02","#ff0000","#1b9e77","#7570b3","#e7298a"]},"legend":null},
    "order":{"value":null}}},
  {"data":{"name":"ends"},
   "transform":[{"filter":{"field":"id","oneOf":["100","101","102"]}}],
   "mark":{"type":"text","align":"left","baseline":"middle","dx":1,"fontSize":9},
   "encoding":{
    "x":{"field":"x","type":"quantitative"},
    "y":{"field":"y","type":"quantitative"},
    "text":{"field":"id"},
    "color":{"field":"id","type":"nominal","legend":null}}}
 ]}
]
}
